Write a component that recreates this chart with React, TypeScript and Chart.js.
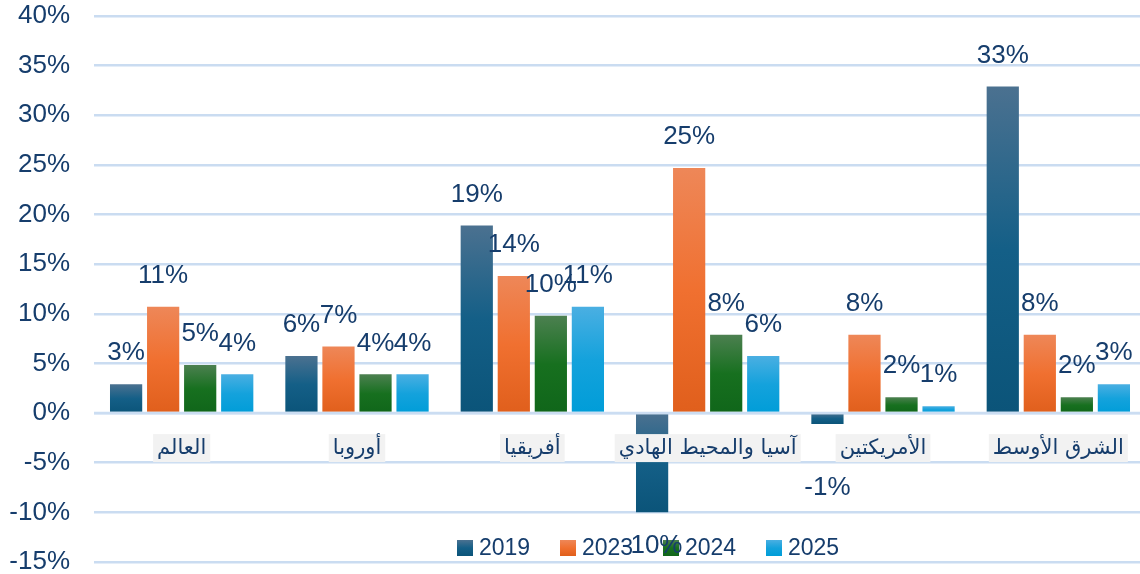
import React, { useEffect, useRef } from "react";
import { Chart, registerables } from "chart.js";

Chart.register(...registerables);

const categories = ["العالم", "أوروبا", "أفريقيا", "آسيا والمحيط الهادي", "الأمريكتين", "الشرق الأوسط"];
const years = ["2019", "2023", "2024", "2025"];
const values2019 = [2.9, 5.75, 18.9, -10, -1.1, 32.9];
const values2023 = [10.7, 6.7, 13.8, 24.7, 7.9, 7.9];
const values2024 = [4.85, 3.9, 9.8, 7.9, 1.6, 1.6];
const values2025 = [3.9, 3.9, 10.7, 5.75, 0.7, 2.9];
const yTicks = [-15, -10, -5, 0, 5, 10, 15, 20, 25, 30, 35, 40];

const gradients = [
  ["#4b7190", "#145f87", "#0b5479"],
  ["#ee8758", "#f07030", "#e05f1c"],
  ["#4c8050", "#17701f", "#10661a"],
  ["#4aafe2", "#14a2dc", "#009dd8"],
];

const TEXT = "#163d6c";
const GRID = "#cadcf1";
const FONT = "'Liberation Sans', Arial, sans-serif";
const CANVAS_W = 1146;

function makeGrad(ctx: CanvasRenderingContext2D, top: number, bottom: number, stops: string[]) {
  const g = ctx.createLinearGradient(0, top, 0, bottom);
  g.addColorStop(0, stops[0]);
  g.addColorStop(0.5, stops[1]);
  g.addColorStop(1, stops[2]);
  return g;
}

const overlayPlugin = {
  id: "overlay",
  afterDatasetsDraw(chart: any) {
    const ctx = chart.ctx;
    const y = chart.scales.y;
    const area = chart.chartArea;
    const zeroY = y.getPixelForValue(0);
    ctx.save();
    ctx.strokeStyle = "rgba(202,220,241,0.95)";
    ctx.lineWidth = 2.5;
    ctx.beginPath();
    ctx.moveTo(area.left, zeroY);
    ctx.lineTo(area.right, zeroY);
    ctx.stroke();

    // category labels
    const x = chart.scales.x;
    ctx.font = "21px 'DejaVu Sans', sans-serif";
    ctx.textAlign = "center";
    ctx.textBaseline = "middle";
    categories.forEach((c, i) => {
      const cx = x.getPixelForValue(i);
      const w = ctx.measureText(c).width + 8;
      ctx.fillStyle = "#f2f2f2";
      ctx.fillRect(cx - w / 2, zeroY + 21, w, 28);
      ctx.fillStyle = TEXT;
      ctx.direction = "rtl";
      ctx.fillText(c, cx, zeroY + 35);
      ctx.direction = "ltr";
    });

    // legend
    ctx.font = `23px ${FONT}`;
    ctx.textAlign = "left";
    let lx = 457;
    const ly = 548;
    years.forEach((yr, i) => {
      ctx.fillStyle = makeGrad(ctx, ly - 8, ly + 8, gradients[i]);
      ctx.fillRect(lx, ly - 8, 16, 16);
      ctx.fillStyle = TEXT;
      ctx.fillText(yr, lx + 22, ly + 1);
      lx += 103;
    });

    // data labels
    ctx.font = `26px ${FONT}`;
    ctx.textAlign = "center";
    ctx.fillStyle = TEXT;
    chart.data.datasets.forEach((ds: any, di: number) => {
      const meta = chart.getDatasetMeta(di);
      meta.data.forEach((bar: any, i: number) => {
        const v = ds.data[i];
        const label = Math.round(v) + "%";
        const py = y.getPixelForValue(v);
        let ty;
        if (v >= 0) ty = py - 31;
        else ty = Math.max(py + 33, zeroY + 75);
        ctx.fillText(label, bar.x, ty);
      });
    });
    ctx.restore();
  },
};

export default function App() {
  const ref = useRef<HTMLCanvasElement>(null);
  useEffect(() => {
    document.body.style.margin = "0";
    const seriesValues = [values2019, values2023, values2024, values2025];
    const chart = new Chart(ref.current as HTMLCanvasElement, {
      type: "bar",
      data: {
        labels: categories,
        datasets: years.map((yr, di) => ({
          label: yr,
          data: seriesValues[di],
          categoryPercentage: 0.845,
          barPercentage: 0.87,
          backgroundColor: (c: any) => {
            const chart = c.chart;
            const ys = chart.scales?.y;
            if (!ys || !chart.chartArea || c.dataIndex === undefined) return gradients[di][1];
            const v = seriesValues[di][c.dataIndex];
            const top = ys.getPixelForValue(Math.max(v, 0));
            const bottom = ys.getPixelForValue(Math.min(v, 0));
            return makeGrad(chart.ctx, top, bottom === top ? top + 1 : bottom, gradients[di]);
          },
        })),
      },
      options: {
        animation: false,
        responsive: false,
        maintainAspectRatio: false,
        layout: { padding: { top: 16, bottom: 12, right: 0, left: 0 } },
        plugins: { legend: { display: false }, tooltip: { enabled: false } },
        scales: {
          x: { display: false, grid: { display: false } },
          y: {
            min: -15,
            max: 40,
            afterBuildTicks: (axis: any) => {
              axis.ticks = yTicks.map((v) => ({ value: v }));
            },
            afterFit: (axis: any) => {
              axis.width = 94;
              axis.paddingTop = 0;
              axis.paddingBottom = 0;
            },
            border: { display: false },
            grid: { color: GRID, lineWidth: 2.5, drawTicks: false },
            ticks: {
              padding: 24,
              color: TEXT,
              font: { size: 26, family: FONT },
              callback: (v: any) => v + "%",
            },
          },
        },
      },
      plugins: [overlayPlugin],
    });
    return () => chart.destroy();
  }, []);
  return (
    <div style={{ width: 1140, height: 574, overflow: "hidden" }}>
      <canvas ref={ref} width={CANVAS_W} height={574} style={{ width: CANVAS_W, height: 574, display: "block" }} />
    </div>
  );
}
